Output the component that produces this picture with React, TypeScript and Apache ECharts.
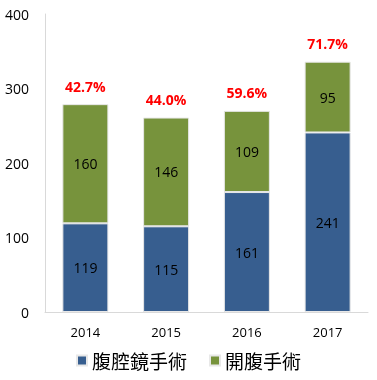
import React, { useEffect, useRef } from "react";
import * as echarts from "echarts";

const categories = ["2014", "2015", "2016", "2017"];
const laparoscopic = [119, 115, 161, 241];
const openSurgery = [160, 146, 109, 95];
const pctLabels = ["42.7%", "44.0%", "59.6%", "71.7%"];
const yTicks = [0, 100, 200, 300, 400];

export default function App() {
  const ref = useRef<HTMLDivElement>(null);
  useEffect(() => {
    if (!ref.current) return;
    const chart = echarts.init(ref.current, undefined, { renderer: "svg" });
    const font = "'Open Sans', 'Noto Sans CJK TC', sans-serif";
    chart.setOption({
      animation: false,
      textStyle: { fontFamily: font },
      grid: { left: 45, right: 9, top: 14, bottom: 68 },
      xAxis: {
        type: "category",
        data: categories,
        axisLine: { lineStyle: { color: "#D9D9D9", width: 1 } },
        axisTick: { show: false },
        axisLabel: { color: "#000", fontSize: 13, margin: 13, fontFamily: font },
      },
      yAxis: {
        type: "value",
        min: yTicks[0],
        max: yTicks[yTicks.length - 1],
        interval: 100,
        axisLine: { show: true, lineStyle: { color: "#D9D9D9", width: 1 } },
        axisTick: { show: false },
        splitLine: { show: false },
        axisLabel: { color: "#000", fontSize: 14, margin: 16, fontFamily: font },
      },
      legend: {
        bottom: 5,
        left: "center",
        icon: "rect",
        itemWidth: 10,
        itemHeight: 10,
        itemGap: 22,
        textStyle: { fontSize: 19, color: "#000", fontFamily: "'Noto Sans CJK TC', sans-serif" },
        data: ["腹腔鏡手術", "開腹手術"],
      },
      series: [
        {
          name: "腹腔鏡手術",
          type: "bar",
          stack: "total",
          barWidth: "57%",
          data: laparoscopic,
          itemStyle: { color: "#375E8F", borderColor: "#E8E8E8", borderWidth: 1 },
          label: { show: true, position: "inside", color: "#000", fontSize: 14, fontFamily: font },
        },
        {
          name: "開腹手術",
          type: "bar",
          stack: "total",
          barWidth: "57%",
          data: openSurgery,
          itemStyle: { color: "#77933C", borderColor: "#E8E8E8", borderWidth: 1 },
          label: { show: true, position: "inside", color: "#000", fontSize: 14, fontFamily: font },
        },
        {
          name: "pct",
          type: "bar",
          stack: "total",
          barWidth: "57%",
          data: categories.map(() => 0),
          itemStyle: { color: "transparent" },
          label: {
            show: true,
            position: "top",
            distance: 11,
            formatter: (p: any) => pctLabels[p.dataIndex],
            color: "#FF0000",
            fontWeight: "bold",
            fontSize: 14,
            fontFamily: font,
          },
        },
      ],
    });
    return () => chart.dispose();
  }, []);
  return <div ref={ref} style={{ position: "fixed", left: 0, top: 0, width: 377, height: 380 }} />;
}
